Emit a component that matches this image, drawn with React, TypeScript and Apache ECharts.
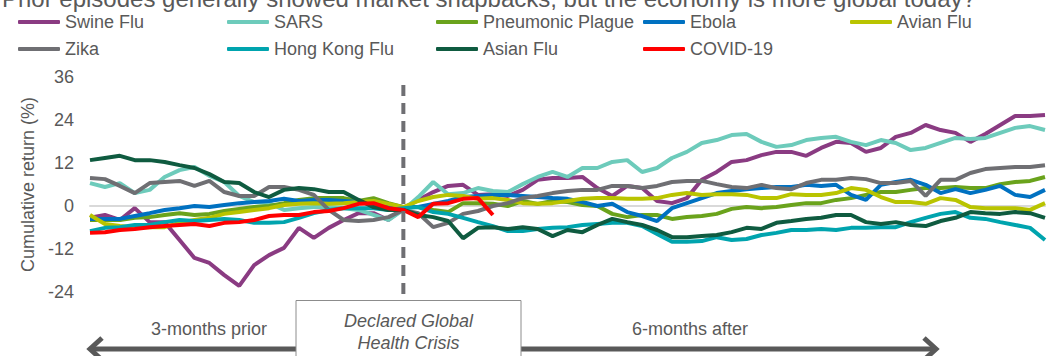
import React, { useEffect, useRef } from "react";
import * as echarts from "echarts";

const TITLE =
  "Prior episodes generally showed market snapbacks, but the economy is more global today?";
const Y_AXIS_NAME = "Cumulative return (%)";
const Y_MIN = -24;
const Y_MAX = 36;
const Y_STEP = 12;
// trading days relative to the declaration of the health crisis (every 3rd day)
const DAYS = Array.from({ length: 65 }, (_, i) => -63 + 3 * i);
const LEFT_LABEL = "3-months prior";
const RIGHT_LABEL = "6-months after";
const BOX_LINES = ["Declared Global", "Health Crisis"];

const swineFlu = [-3.3, -2.5, -3.9, -0.6, -4.5, -4.5, -9.5, -14.5, -15.9, -19.3, -22.3, -16.5, -13.7, -11.7, -6.1, -8.9, -6.1, -3.9, -2.0, -2.0, -3.9, -0.6, 1.7, 3.9, 5.6, 5.9, 3.1, 3.3, 2.8, 4.5, 7.3, 7.8, 7.8, 8.1, 5.0, 2.8, 5.6, 5.0, 1.4, 0.8, 2.2, 7.3, 9.5, 12.3, 12.8, 14.2, 15.1, 15.1, 14.0, 16.2, 17.9, 17.6, 15.1, 16.2, 19.3, 20.4, 22.6, 21.2, 20.4, 17.9, 20.1, 22.6, 25.1, 25.1, 25.4];
const sars = [6.4, 5.3, 6.4, 3.6, 4.5, 8.1, 10.0, 10.9, 8.4, 6.7, 2.8, 1.1, 0.8, -1.1, -0.6, -0.3, -0.3, -0.6, -1.1, -2.5, -3.9, -1.1, 2.5, 6.7, 3.3, 3.6, 5.0, 4.2, 3.9, 6.1, 8.1, 9.5, 8.1, 10.6, 10.6, 12.3, 12.8, 9.5, 10.6, 13.4, 15.1, 17.6, 18.4, 19.8, 20.1, 17.9, 16.5, 17.0, 18.4, 19.0, 19.3, 17.9, 17.0, 18.4, 17.6, 15.6, 16.2, 17.6, 19.0, 18.7, 19.0, 20.4, 21.8, 22.3, 21.2];
const pneumonicPlague = [-3.9, -3.9, -3.9, -3.3, -3.1, -2.5, -2.0, -2.5, -2.2, -1.4, -0.8, -0.3, 0, 0.8, 1.7, 2.2, 2.2, 2.2, 1.4, 2.2, 0.8, -0.3, -0.3, -1.1, -1.7, 0.8, 0.8, 0.6, 0, 1.4, 0.6, 1.4, 1.1, 0.3, 0, -2.2, -3.1, -2.5, -2.5, -3.6, -3.1, -2.8, -2.2, -0.8, -0.3, -0.6, -0.3, 0.3, 0.8, 0.8, 1.7, 2.2, 3.1, 3.9, 3.9, 4.5, 5.0, 5.0, 5.3, 5.0, 5.0, 6.1, 6.7, 7.0, 8.1];
const ebola = [-3.6, -3.6, -3.6, -2.8, -2.0, -1.1, -0.6, 0, -0.3, 0.3, 0.8, 1.1, 1.4, 2.0, 1.4, 1.7, 1.7, 1.4, 1.1, 0.6, 0.3, -0.3, -0.3, 0.6, 1.4, 2.5, 2.8, 3.1, 3.1, 2.8, 2.5, 2.2, 2.0, 1.1, 0, 0.6, -1.7, -2.8, -4.2, -0.6, 0.8, 2.2, 3.6, 4.2, 4.7, 5.0, 5.3, 5.3, 5.9, 5.6, 5.9, 3.1, 1.7, 5.9, 6.7, 7.3, 5.9, 3.6, 4.7, 3.6, 4.5, 5.6, 3.1, 2.5, 4.5];
const avianFlu = [-2.5, -5.0, -5.6, -5.9, -5.9, -5.9, -4.7, -3.9, -3.3, -2.2, -1.7, -1.1, -0.6, 0.3, 0.6, 0.8, 0.6, 0.8, 1.1, 1.4, 0.6, -0.3, 1.4, 2.5, 3.1, 2.8, 2.0, 2.2, 1.7, 0.8, 0.6, 0.8, 1.4, 2.0, 2.2, 2.2, 2.0, 2.0, 2.2, 3.1, 3.6, 3.1, 3.3, 3.3, 3.1, 2.2, 2.2, 3.3, 3.1, 3.1, 3.6, 5.0, 4.5, 2.5, 1.1, 1.1, 0.6, 2.2, 1.7, -0.3, -0.6, -0.6, -0.6, -1.1, 0.8];
const zika = [7.8, 7.5, 5.6, 3.6, 6.4, 6.7, 7.0, 5.6, 7.0, 3.9, 2.8, 2.8, 5.3, 5.3, 4.5, 3.1, -1.1, -3.9, -4.2, -3.9, -3.1, -1.1, -2.0, -5.9, -4.7, -2.2, -1.4, 0, 0.8, 2.2, 2.8, 3.6, 4.2, 4.5, 4.5, 5.6, 5.6, 5.0, 5.6, 6.7, 7.0, 7.0, 6.1, 5.3, 5.0, 5.9, 5.0, 4.7, 6.4, 7.3, 7.3, 7.8, 7.5, 6.4, 6.4, 7.0, 2.8, 7.3, 7.3, 9.2, 10.3, 10.6, 10.9, 10.9, 11.4];
const hongKongFlu = [-7.0, -6.1, -5.9, -5.3, -5.3, -4.5, -3.9, -4.2, -3.9, -3.6, -3.9, -4.7, -4.7, -4.5, -3.3, -2.0, -1.1, -0.6, -0.6, -0.6, -1.1, -0.6, -0.3, -1.7, -2.2, -3.3, -4.5, -5.6, -7.0, -7.0, -6.4, -6.1, -5.9, -5.3, -5.0, -4.7, -4.7, -5.6, -7.8, -10.0, -10.0, -9.8, -8.7, -9.5, -9.2, -8.1, -7.5, -6.7, -6.7, -6.4, -6.7, -6.1, -6.1, -5.9, -5.9, -4.5, -3.3, -2.2, -1.7, -3.3, -3.6, -4.5, -5.3, -6.1, -9.5];
const asianFlu = [12.8, 13.4, 14.0, 12.8, 12.8, 12.3, 11.4, 10.6, 8.9, 6.7, 6.4, 3.9, 2.5, 4.5, 5.0, 4.7, 3.9, 3.9, 1.7, -0.3, -1.1, -1.1, -2.5, -3.1, -4.2, -9.0, -6.1, -5.9, -6.4, -5.9, -6.4, -8.4, -6.7, -7.3, -5.3, -3.6, -4.5, -5.3, -6.7, -8.7, -8.7, -8.4, -8.1, -7.3, -6.1, -6.4, -4.7, -4.2, -3.6, -3.3, -2.5, -2.5, -4.5, -5.0, -4.5, -5.3, -5.6, -4.2, -3.3, -1.7, -2.0, -2.2, -1.7, -2.0, -3.3];
const covid19 = [-7.5, -7.3, -6.7, -6.4, -5.9, -5.6, -5.3, -5.0, -5.6, -4.7, -4.5, -3.9, -2.8, -2.5, -2.5, -1.7, -1.4, -0.6, 0.6, 0.8, -0.6, -1.1, -3.1, 0.6, 0.8, 2.0, 2.2, -2.5];

const SERIES = [
  { name: "Swine Flu", color: "#8A3B82", values: swineFlu },
  { name: "SARS", color: "#6DCBBB", values: sars },
  { name: "Pneumonic Plague", color: "#6AA31C", values: pneumonicPlague },
  { name: "Ebola", color: "#0071C1", values: ebola },
  { name: "Avian Flu", color: "#B9C400", values: avianFlu },
  { name: "Zika", color: "#6F6F73", values: zika },
  { name: "Hong Kong Flu", color: "#00A4AE", values: hongKongFlu },
  { name: "Asian Flu", color: "#0F5B40", values: asianFlu },
  { name: "COVID-19", color: "#FF0000", values: covid19 },
];
// legend columns: left edges of the five columns, two rows each
const LEGEND_COLUMNS = [18, 227, 436, 643, 850];

const FONT = "'Liberation Sans', Arial, sans-serif";
const TEXT_COLOR = "#595959";

export default function App() {
  const ref = useRef<HTMLDivElement>(null);

  useEffect(() => {
    if (!ref.current) return;
    const chart = echarts.init(ref.current, undefined, { renderer: "svg" });

    const legends = LEGEND_COLUMNS.map((left, c) => ({
      left,
      top: 13,
      padding: 0,
      orient: "vertical" as const,
      icon: "roundRect",
      itemWidth: 42,
      itemHeight: 4,
      itemGap: 9,
      itemTextGap: 3,
      textStyle: {
        color: TEXT_COLOR,
        fontSize: 18,
        fontFamily: FONT,
        lineHeight: 18,
      },
      data: [SERIES[c], SERIES[c + 5]].filter(Boolean).map((s) => s!.name),
    }));

    chart.setOption({
      animation: false,
      legend: legends,
      grid: { left: 90, right: 4, top: 77, bottom: 64, containLabel: false },
      xAxis: {
        type: "value",
        min: DAYS[0],
        max: DAYS[DAYS.length - 1],
        axisLabel: { show: false },
        axisTick: { show: false },
        splitLine: { show: false },
        axisLine: { show: true, onZero: true, lineStyle: { color: "#D9D9D9", width: 2 } },
      },
      yAxis: {
        type: "value",
        min: Y_MIN,
        max: Y_MAX,
        interval: Y_STEP,
        name: Y_AXIS_NAME,
        nameLocation: "middle",
        nameGap: 47,
        nameRotate: 90,
        nameTextStyle: { color: TEXT_COLOR, fontSize: 18, fontFamily: FONT },
        axisLine: { show: false },
        axisTick: { show: false },
        splitLine: { show: false },
        axisLabel: {
          color: TEXT_COLOR,
          fontSize: 18,
          fontFamily: FONT,
          margin: 16,
          padding: [8, 0, 0, 0],
        },
      },
      series: SERIES.map((s) => ({
        name: s.name,
        type: "line",
        showSymbol: false,
        symbol: "none",
        color: s.color,
        lineStyle: { color: s.color, width: 4 },
        data: s.values.map((v, i) => [DAYS[i], v]),
      })),
    });

    const x0 = chart.convertToPixel({ xAxisIndex: 0 }, 0) as number;
    const xStart = chart.convertToPixel({ xAxisIndex: 0 }, DAYS[0]) as number;
    const boxL = 296;
    const boxR = 521;
    const arrowY = 349;
    const arrowColor = "#595959";

    chart.setOption({
      graphic: [
        {
          type: "text",
          x: 2,
          y: -2,
          style: {
            text: TITLE,
            fill: TEXT_COLOR,
            font: `24px ${FONT}`,
            verticalAlign: "middle",
          },
        },
        {
          type: "line",
          shape: { x1: x0, y1: 85, x2: x0, y2: 300 },
          style: { stroke: "#6F6F73", lineWidth: 4, lineDash: [11, 7] },
          z: 10,
        },
        {
          type: "rect",
          shape: { x: boxL, y: 300.5, width: boxR - boxL, height: 70 },
          style: { fill: "#ffffff", stroke: "#8C8C8C", lineWidth: 1 },
          z: 11,
        },
        {
          type: "text",
          x: (boxL + boxR) / 2,
          y: 321,
          style: {
            text: BOX_LINES[0],
            fill: TEXT_COLOR,
            font: `italic 18px ${FONT}`,
            align: "center",
            verticalAlign: "middle",
          },
          z: 12,
        },
        {
          type: "text",
          x: (boxL + boxR) / 2,
          y: 343,
          style: {
            text: BOX_LINES[1],
            fill: TEXT_COLOR,
            font: `italic 18px ${FONT}`,
            align: "center",
            verticalAlign: "middle",
          },
          z: 12,
        },
        {
          type: "text",
          x: 209,
          y: 329,
          style: {
            text: LEFT_LABEL,
            fill: TEXT_COLOR,
            font: `18px ${FONT}`,
            align: "center",
            verticalAlign: "middle",
          },
        },
        {
          type: "text",
          x: 690,
          y: 329,
          style: {
            text: RIGHT_LABEL,
            fill: TEXT_COLOR,
            font: `18px ${FONT}`,
            align: "center",
            verticalAlign: "middle",
          },
        },
        {
          type: "line",
          shape: { x1: xStart, y1: arrowY, x2: boxL, y2: arrowY },
          style: { stroke: arrowColor, lineWidth: 5 },
        },
        {
          type: "polyline",
          shape: { points: [[xStart + 12, arrowY - 11], [xStart, arrowY], [xStart + 12, arrowY + 11]] },
          style: { stroke: arrowColor, lineWidth: 5, fill: "none", lineJoin: "miter" },
        },
        {
          type: "line",
          shape: { x1: boxR, y1: arrowY, x2: 936, y2: arrowY },
          style: { stroke: arrowColor, lineWidth: 5 },
        },
        {
          type: "polyline",
          shape: { points: [[924, arrowY - 11], [936, arrowY], [924, arrowY + 11]] },
          style: { stroke: arrowColor, lineWidth: 5, fill: "none", lineJoin: "miter" },
        },
      ],
    });

    return () => chart.dispose();
  }, []);

  return (
    <div
      ref={ref}
      style={{ position: "absolute", left: 0, top: 0, width: 1049, height: 356, background: "#fff" }}
    />
  );
}
